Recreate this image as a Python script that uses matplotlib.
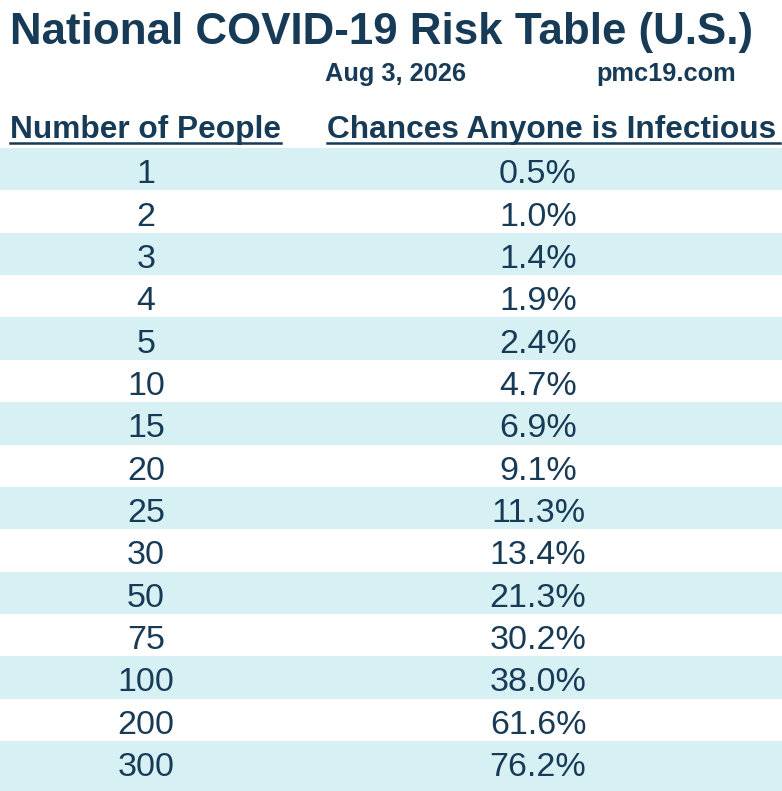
import matplotlib
matplotlib.use("Agg")
import matplotlib.pyplot as plt
from matplotlib.lines import Line2D

people = [1, 2, 3, 4, 5, 10, 15, 20, 25, 30, 50, 75, 100, 200, 300]
chances = [0.5, 1.0, 1.4, 1.9, 2.4, 4.7, 6.9, 9.1, 11.3, 13.4, 21.3, 30.2, 38.0, 61.6, 76.2]
title = "National COVID-19 Risk Table (U.S.)"
date_label = "Aug 3, 2026"
site_label = "pmc19.com"
col_headers = ["Number of People", "Chances Anyone is Infectious"]

NAVY = "#173B57"
BAND = "#D6F0F4"
W, H = 782, 791

plt.rcParams["font.family"] = ["Liberation Sans", "DejaVu Sans"]

fig = plt.figure(figsize=(W / 100, H / 100), dpi=100)


def fy(py):
    return 1 - py / H


# table area below the header
top_px = 148
ax = fig.add_axes([0, 0, 1, fy(top_px)])
row_h = 42.36
n_rows = (H - top_px) / row_h
ax.set_xlim(0, W)
ax.set_ylim(n_rows, 0)
ax.axis("off")

for i, (p, c) in enumerate(zip(people, chances)):
    if i % 2 == 0:
        bottom = i + 1 if i < len(people) - 1 else n_rows
        ax.axhspan(i, bottom, color=BAND, lw=0)
    ax.text(146, i + 0.83, f"{p}", ha="center", va="baseline",
            fontsize=24.5, color=NAVY)
    ax.text(538, i + 0.83, f"{c:.1f}%", ha="center", va="baseline",
            fontsize=24.5, color=NAVY)

fig.text(10 / W, fy(44), title, ha="left", va="baseline",
         fontsize=31.6, fontweight="bold", color=NAVY)
fig.text(325 / W, fy(81), date_label, ha="left", va="baseline",
         fontsize=18.3, fontweight="bold", color=NAVY)
fig.text(596 / W, fy(81), site_label, ha="left", va="baseline",
         fontsize=18.3, fontweight="bold", color=NAVY)

fig.text(10 / W, fy(138), col_headers[0], ha="left", va="baseline",
         fontsize=22.8, fontweight="bold", color=NAVY)
fig.text(327 / W, fy(138), col_headers[1], ha="left", va="baseline",
         fontsize=22.8, fontweight="bold", color=NAVY)
for x0, x1 in [(10, 281), (327, 780)]:
    fig.add_artist(Line2D([x0 / W, x1 / W], [fy(143), fy(143)],
                          color=NAVY, lw=1.8, transform=fig.transFigure))

fig.savefig("out.png", dpi=100)
